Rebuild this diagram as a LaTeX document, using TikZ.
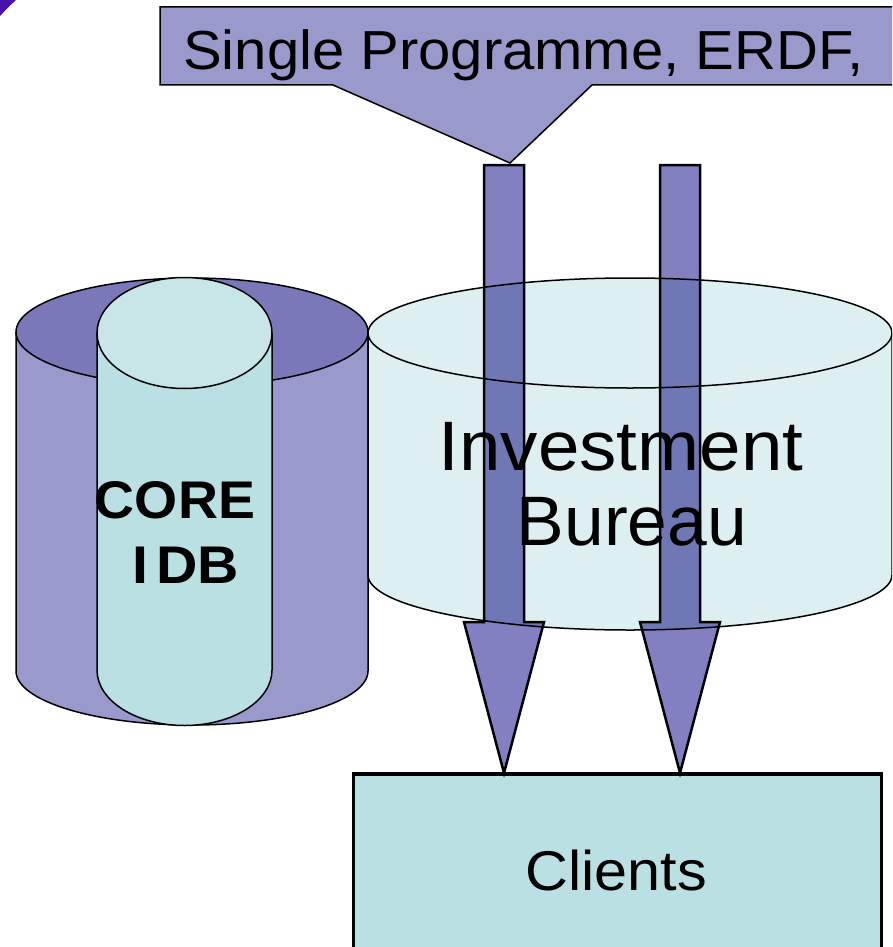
\documentclass[tikz,border=0pt]{standalone}
\usepackage{fontspec}
\usepackage{graphicx}
\setmainfont{Liberation Sans}
\usetikzlibrary{calc}

\definecolor{lilac}{RGB}{153,153,204}
\definecolor{lilacdark}{RGB}{123,120,186}
\definecolor{arrowfill}{RGB}{130,128,192}
\definecolor{tealbody}{RGB}{186,224,227}
\definecolor{tealtop}{RGB}{200,230,232}
\definecolor{palecyan}{RGB}{221,239,241}
\definecolor{cornerviolet}{RGB}{72,16,168}

\tikzset{
  outline/.style={draw=black, line width=1.5pt},
  blockarrow/.style={fill=arrowfill, draw=black, line width=2.5pt, line join=miter},
  bigtext/.style={inner sep=0pt, font=\fontsize{#1}{#1}\selectfont},
  boldtext/.style={inner sep=0pt, font=\fontsize{#1}{#1}\selectfont\bfseries},
}

% Cylinder: centre x, top centre y, bottom centre y, x radius, y radius, body colour, top colour
\newcommand{\drumshape}[7]{%
  \fill[#6] (#1-#4,#2) -- (#1-#4,#3)
     arc[start angle=180, end angle=0, x radius=#4, y radius=#5] -- (#1+#4,#2) -- cycle;
  \draw[outline] (#1-#4,#2) -- (#1-#4,#3)
     arc[start angle=180, end angle=0, x radius=#4, y radius=#5] -- (#1+#4,#2);
  \draw[outline, fill=#7] (#1,#2) ellipse[x radius=#4, y radius=#5];
}
% horizontally widened text
\newcommand{\widetxt}[2]{\scalebox{#1}[1]{#2}}

\begin{document}
\begin{tikzpicture}[x=1pt, y=-1pt]
  \clip (0,0) rectangle (892,947);
  \fill[white] (0,0) rectangle (892,947);

  % violet rim in the top-left corner
  \begin{scope}
    \clip (0,0) rectangle (60,60);
    \fill[cornerviolet, even odd rule] (-20,-20) rectangle (80,80) (401,401) circle (556);
  \end{scope}

  % callout box with its pointer
  \draw[outline, fill=lilac, line join=miter]
    (160,7) -- (930,7) -- (930,85) -- (592,85) -- (510,163) -- (333,85) -- (160,85) -- cycle;
  \node[bigtext=55, anchor=base west] (source) at (183,70)
    {\widetxt{1.055}{Single Programme, ERDF,}};

  % outer store with the core drum inside it
  \drumshape{192}{332}{671}{176}{54}{lilac}{lilacdark}
  \drumshape{184.5}{333}{670}{87.5}{55.5}{tealbody}{tealtop}
  \node[boldtext=53, anchor=base] (core) at (175,518) {\widetxt{1.045}{CORE}};
  \node[boldtext=53, anchor=base] (idb) at (186,583) {\widetxt{1.08}{I\kern7pt DB}};

  % investment bureau drum
  \drumshape{630}{333}{575}{262}{55}{palecyan}{palecyan}
  \node[bigtext=70, anchor=base] (bureau1) at (621,470) {\widetxt{1.065}{Investment}};
  \node[bigtext=70, anchor=base] (bureau2) at (632,545) {\widetxt{1.02}{Bureau}};

  % clients box
  \node[draw=black, line width=2.5pt, fill=tealbody, minimum width=528pt,
        minimum height=200pt, anchor=north west, inner sep=0pt] (clients) at (352,773) {};
  \node[bigtext=56, anchor=base] (clientstext) at (616,890) {\widetxt{1.06}{Clients}};

  % funding flows down to the clients
  \coordinate (a1s) at (504,165);
  \coordinate (a2s) at (680,165);
  \coordinate (a1t) at (clients.north -| a1s);
  \coordinate (a2t) at (clients.north -| a2s);
  \begin{scope}[blend mode=multiply]
    \foreach \s/\t in {a1s/a1t, a2s/a2t} {
      \path[blockarrow]
        ($(\s)+(-20,0)$) -- ($(\s)+(20,0)$) -- ($(\t)+(20,-151)$) -- ($(\t)+(40,-151)$)
        -- (\t) -- ($(\t)+(-40,-151)$) -- ($(\t)+(-20,-151)$) -- cycle;
    }
  \end{scope}
  \draw[line width=2.5pt] (clients.north west) -- (clients.north east);
\end{tikzpicture}
\end{document}
